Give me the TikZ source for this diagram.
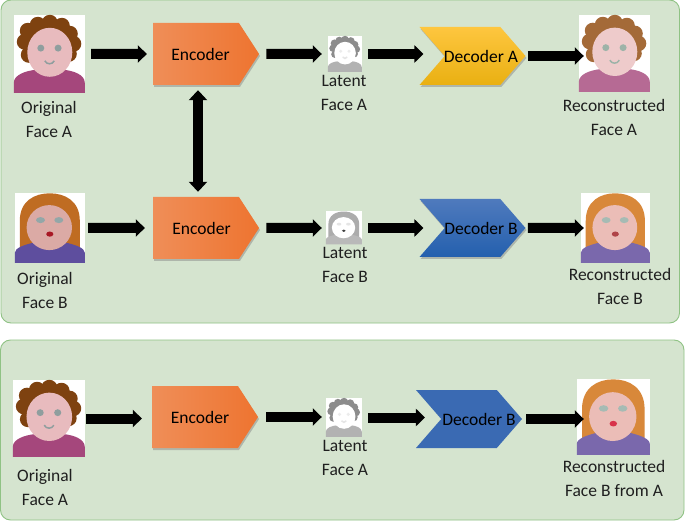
\documentclass[tikz,border=0pt]{standalone}
\usepackage{fontspec}
\setmainfont{Carlito}
\usepackage{tikz}
\usetikzlibrary{arrows.meta}
\usetikzlibrary{shapes.symbols}
\usetikzlibrary{shadows}

\definecolor{panelfill}{HTML}{D5E4CF}
\definecolor{paneledge}{HTML}{8FC284}
\definecolor{encleft}{HTML}{EF8E58}
\definecolor{encright}{HTML}{EE7430}
\definecolor{decAtop}{HTML}{FEC63F}
\definecolor{decAbot}{HTML}{E9B012}
\definecolor{decBtop}{HTML}{4F7ABD}
\definecolor{decBbot}{HTML}{2460AE}
\definecolor{decCfill}{HTML}{3A6AB3}

\tikzset{
    panel/.style={draw=paneledge,fill=panelfill,line width=0.9pt,rounded corners=10pt},
    bigarrow/.style={line width=10pt,-{Triangle[length=9pt,width=17pt]}},
    bothways/.style={line width=10pt,{Triangle[length=10pt,width=18pt]}-{Triangle[length=10pt,width=18pt]}},
    photo/.style={fill=white,inner sep=0pt},
    caption/.style={font=\fontsize{17.5pt}{24pt}\selectfont,text=black!88,align=center,inner sep=0pt},
    softshadow/.style={drop shadow={shadow xshift=1pt,shadow yshift=-2pt,opacity=0.45}},
    encoderbox/.style={shape=signal,signal to=east,signal pointer angle=114,
        minimum width=106pt,minimum height=62pt,inner sep=0pt,
        left color=encleft,right color=encright,softshadow,
        font=\fontsize{17.5pt}{24pt}\selectfont},
    decoderbox/.style={shape=signal,signal from=west,signal to=east,signal pointer angle=98,
        minimum width=106pt,minimum height=58pt,inner sep=0pt,
        font=\fontsize{17.5pt}{24pt}\selectfont},
    pics/curly/.style n args={5}{code={
        % 身体
        \fill[#3] (0,78) -- (0,68) .. controls (0,60) and (12,56) .. (22,55) -- (50,55)
            .. controls (60,56) and (71,60) .. (71,68) -- (71,78) -- cycle;
        % 卷发
        \foreach \hx/\hy in {14/16,24/10,36/8,48/11,56/19,59.5/29,55/39,11/27,15/40}
            \fill[#1] (\hx,\hy) circle (8);
        \fill[#1] (36,30) circle (23);
        \fill[#2] (36,37.5) ellipse (22.5 and 24.5);
        \fill[#4] (27,33.3) circle (3.5);
        \fill[#4] (44.3,33.3) circle (3.5);
        \draw[#5,line width=1.5pt] (31,46) .. controls (33,50) and (38.5,50) .. (40.5,46);
    }},
    pics/longhair/.style n args={5}{code={
        \fill[#1] (5,56) -- (5,28) .. controls (5,8) and (20,0.5) .. (35,0.5)
            .. controls (50,0.5) and (65,8) .. (65,28) -- (65,56) -- cycle;
        \fill[#3] (0,70) -- (0,60) .. controls (0,55) and (10,52) .. (18,50) -- (52,50)
            .. controls (60,52) and (70,55) .. (70,60) -- (70,70) -- cycle;
        \fill[#2] (34.5,34.8) ellipse (22.7 and 22.5);
        \fill[#4] (25.7,27.3) ellipse (4.5 and 3);
        \fill[#4] (44,27.3) ellipse (4.5 and 3);
        \fill[#5] (35,41.3) ellipse (3.6 and 2.6);
    }},
}

\definecolor{hairA}{HTML}{7E4210}
\definecolor{skinA}{HTML}{E8BBBE}
\definecolor{topA}{HTML}{A5477C}
\definecolor{eyeA}{HTML}{8F9E9E}
\definecolor{hairRA}{HTML}{A46A38}
\definecolor{skinRA}{HTML}{EECBCB}
\definecolor{topRA}{HTML}{B66A94}
\definecolor{eyeRA}{HTML}{9DB3A8}
\definecolor{hairB}{HTML}{BF6C22}
\definecolor{skinB}{HTML}{DBAAA5}
\definecolor{topB}{HTML}{5E4E9E}
\definecolor{eyeB}{HTML}{93A7A8}
\definecolor{mouthB}{HTML}{A81824}
\definecolor{hairRB}{HTML}{D8883A}
\definecolor{skinRB}{HTML}{EBBDB7}
\definecolor{topRB}{HTML}{7A68AC}
\definecolor{eyeRB}{HTML}{A6BBB4}
\definecolor{mouthRB}{HTML}{B04448}
\definecolor{mouthRC}{HTML}{D8324A}

\begin{document}
\begin{tikzpicture}[x=1pt,y=-1pt]
    \useasboundingbox (0,0) rectangle (685,521);
    \fill[white] (0,0) rectangle (685,521);

    % 绘制面板
    \draw[panel] (1,0) rectangle (679.5,323);
    \draw[panel] (0.5,340) rectangle (684,520);

    % 第一行
    \node[photo,minimum width=71pt,minimum height=78pt] (faceA) at (49.5,54) {};
    \pic at (faceA.north west) {curly={hairA}{skinA}{topA}{eyeA}{eyeA}};
    \node[caption] (capA) at (49,119) {Original\\Face A};
    \node[encoderbox] (encA) at (196,54) {\makebox[0pt]{\hspace{9pt}Encoder}};
    \node[photo,minimum width=34pt,minimum height=36pt] (latA) at (345,54) {};
    \pic[xscale=0.479,yscale=0.462] at (latA.north west) {curly={gray!90}{white}{gray!60}{gray!15}{gray!20}};
    \node[caption] (capLatA) at (344,93) {Latent\\Face A};
    \node[decoderbox,top color=decAtop,bottom color=decAbot,softshadow] (decA) at (472.5,56) {\makebox[0pt]{\hspace{17pt}Decoder A}};
    \node[photo,minimum width=71pt,minimum height=77pt] (recA) at (614.5,53.5) {};
    \pic[yscale=0.987] at (recA.north west) {curly={hairRA}{skinRA}{topRA}{eyeRA}{eyeRA}};
    \node[caption] (capRecA) at (614,117) {Reconstructed\\Face A};

    % 第二行
    \node[photo,minimum width=70pt,minimum height=70pt] (faceB) at (50,228) {};
    \pic at (faceB.north west) {longhair={hairB}{skinB}{topB}{eyeB}{mouthB}};
    \node[caption] (capB) at (45,290) {Original\\Face B};
    \node[encoderbox] (encB) at (196,228) {\makebox[0pt]{\hspace{11pt}Encoder}};
    \node[photo,minimum width=36pt,minimum height=33pt] (latB) at (344,228) {};
    \pic[xscale=0.514,yscale=0.471] at (latB.north west) {longhair={gray!65}{white}{gray!55}{gray!20}{black!75}};
    \node[caption] (capLatB) at (345,265) {Latent\\Face B};
    \node[decoderbox,top color=decBtop,bottom color=decBbot,softshadow] (decB) at (472.5,228) {\makebox[0pt]{\hspace{17pt}Decoder B}};
    \node[photo,minimum width=69pt,minimum height=70pt] (recB) at (615.5,228) {};
    \pic[xscale=0.986] at (recB.north west) {longhair={hairRB}{skinRB}{topRB}{eyeRB}{mouthRB}};
    \node[caption] (capRecB) at (620,286) {Reconstructed\\Face B};

    % 第三行
    \node[photo,minimum width=72pt,minimum height=77pt] (faceC) at (49,418.5) {};
    \pic[xscale=1.014,yscale=0.987] at (faceC.north west) {curly={hairA}{skinA}{topA}{eyeA}{eyeA}};
    \node[caption] (capC) at (45,487) {Original\\Face A};
    \node[encoderbox] (encC) at (195,417) {\makebox[0pt]{\hspace{10pt}Encoder}};
    \node[photo,minimum width=36pt,minimum height=39pt] (latC) at (344,417.5) {};
    \pic[xscale=0.507,yscale=0.5] at (latC.north west) {curly={gray!90}{white}{gray!60}{gray!15}{gray!20}};
    \node[caption] (capLatC) at (345,458) {Latent\\Face A};
    \node[decoderbox,fill=decCfill] (decC) at (469,419) {\makebox[0pt]{\hspace{20pt}Decoder B}};
    \node[photo,minimum width=73pt,minimum height=76pt] (recC) at (613.5,417) {};
    \pic[xscale=1.043,yscale=1.086] at (recC.north west) {longhair={hairRB}{skinRB}{topRB}{eyeRB}{mouthRC}};
    \node[caption] (capRecC) at (614,478) {Reconstructed\\Face B from A};

    % 箭头
    \draw[bigarrow,shorten <=6pt,shorten >=6pt] (faceA) -- (encA);
    \draw[bigarrow,shorten <=7pt,shorten >=6pt] (encA) -- (latA);
    \draw[bigarrow,shorten <=6pt,shorten >=21pt] (latA.east) -- (latA.east -| decA.west);
    \draw[bigarrow,shorten <=2pt,shorten >=-5pt] (decA.east) -- (decA.east -| recA.west);
    \draw[bothways,shorten <=5pt,shorten >=5pt] ([xshift=2pt]encA.south) -- ([xshift=2pt]encB.north);

    \draw[bigarrow,shorten <=3pt,shorten >=8pt] (faceB) -- (encB);
    \draw[bigarrow,shorten <=7pt,shorten >=4pt] (encB) -- (latB);
    \draw[bigarrow,shorten <=6pt,shorten >=21pt] (latB.east) -- (latB.east -| decB.west);
    \draw[bigarrow,shorten <=2pt,shorten >=-3pt] (decB) -- (recB);

    \draw[bigarrow,shorten <=1pt,shorten >=10pt] (faceC.east) -- (faceC.east -| encC.west);
    \draw[bigarrow,shorten <=8pt,shorten >=4pt] (encC.east) -- (encC.east -| latC.west);
    \draw[bigarrow,shorten <=6pt,shorten >=16pt] (latC.east) -- (latC.east -| decC.west);
    \draw[bigarrow,shorten <=4pt,shorten >=-7pt] (decC.east) -- (decC.east -| recC.west);
\end{tikzpicture}
\end{document}
